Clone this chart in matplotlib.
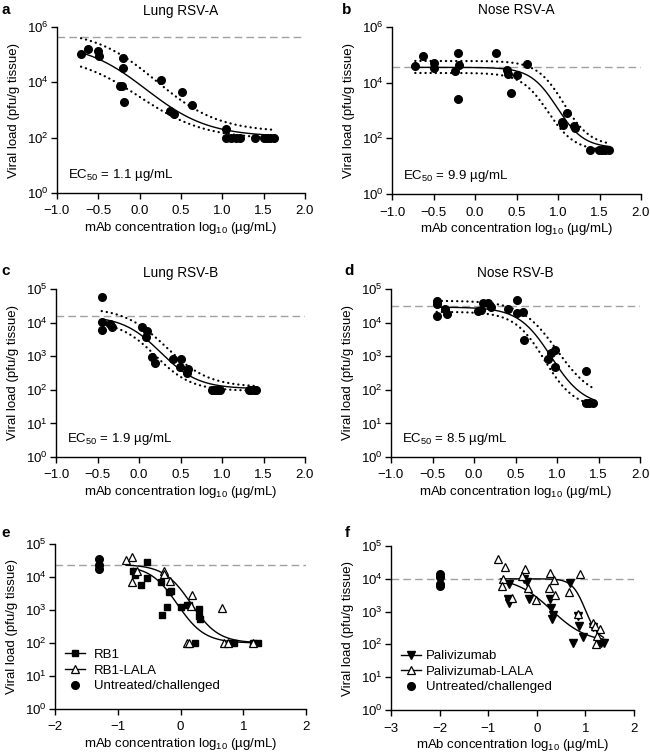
import numpy as np
import matplotlib
matplotlib.use('Agg')
import matplotlib.pyplot as plt
from matplotlib.lines import Line2D
from matplotlib.ticker import FuncFormatter, NullLocator

plt.rcParams['font.family'] = ['Liberation Sans', 'DejaVu Sans']
plt.rcParams['mathtext.fontset'] = 'custom'
plt.rcParams['mathtext.rm'] = 'Liberation Sans'
plt.rcParams['mathtext.it'] = 'Liberation Sans:italic'
plt.rcParams['font.size'] = 9.5

# all viral loads are stored as log10(pfu/g tissue), concentrations as log10(ug/mL)

# a: Lung RSV-A
lung_a_x = [-0.71, -0.62, -0.50, -0.49, -0.20, -0.20, -0.24, -0.21, -0.19, 0.26, 0.51, 0.63,
            0.37, 0.42, 1.05, 1.05, 1.11, 1.17, 1.21, 1.39, 1.50, 1.54, 1.58, 1.62]
lung_a_y = [5.04, 5.22, 5.12, 4.94, 4.89, 4.52, 3.86, 3.86, 3.28, 4.08, 3.66, 3.18,
            2.96, 2.84, 2.30, 2.00, 2.00, 2.00, 2.00, 2.00, 2.00, 2.00, 2.00, 2.00]
lung_a_fit = (5.45, 2.03, 0.08, 1.15)      # top, bottom, logEC50, hill
lung_a_hi = (5.90, 2.20, 0.20, 1.15)
lung_a_lo = (5.00, 1.95, 0.00, 1.10)
lung_a_ref = 5.64

# b: Nose RSV-A
nose_a_x = [-0.72, -0.63, -0.50, -0.50, -0.24, -0.20, -0.19, -0.20, 0.25, 0.38, 0.40, 0.43,
            0.51, 0.63, 1.05, 1.06, 1.11, 1.19, 1.21, 1.39, 1.49, 1.53, 1.57, 1.62]
nose_a_y = [4.59, 4.96, 4.71, 4.52, 4.42, 5.07, 4.64, 3.43, 5.07, 4.44, 4.30, 3.62,
            4.28, 4.68, 2.58, 2.47, 2.91, 2.43, 2.37, 1.59, 1.59, 1.59, 1.59, 1.59]
nose_a_fit = (4.55, 1.65, 0.99, 2.7)
nose_a_hi = (4.78, 1.72, 1.07, 2.7)
nose_a_lo = (4.35, 1.55, 0.88, 2.7)
nose_a_ref = 4.56

# c: Lung RSV-B
lung_b_x = [-0.45, -0.45, -0.44, -0.35, -0.33, 0.04, 0.10, 0.08, 0.16, 0.19, 0.41, 0.51,
            0.49, 0.59, 0.58, 0.88, 0.90, 0.93, 0.96, 0.98, 1.32, 1.35, 1.38, 1.41]
lung_b_y = [4.75, 3.78, 4.01, 3.96, 3.88, 3.86, 3.76, 3.56, 2.99, 2.79, 2.91, 2.91,
            2.69, 2.62, 2.50, 2.00, 2.00, 2.00, 2.00, 2.00, 2.00, 2.00, 2.00, 2.00]
lung_b_fit = (4.20, 2.03, 0.26, 1.9)
lung_b_hi = (4.45, 2.08, 0.33, 1.7)
lung_b_lo = (4.05, 1.97, 0.20, 2.0)
lung_b_ref = 4.20

# d: Nose RSV-B
nose_b_x = [-0.45, -0.45, -0.45, -0.35, -0.33, 0.05, 0.08, 0.11, 0.17, 0.20, 0.41, 0.52,
            0.52, 0.59, 0.60, 0.89, 0.93, 0.97, 0.97, 1.35, 1.35, 1.39, 1.43]
nose_b_y = [4.65, 4.56, 4.20, 4.39, 4.27, 4.36, 4.38, 4.58, 4.58, 4.45, 4.40, 4.67,
            4.30, 4.31, 3.48, 2.91, 3.09, 3.19, 2.69, 2.55, 1.60, 1.60, 1.60]
nose_b_fit = (4.46, 1.50, 0.93, 2.2)
nose_b_hi = (4.65, 1.70, 1.00, 2.0)
nose_b_lo = (4.32, 1.45, 0.85, 2.4)
nose_b_ref = 4.48

# e: RB1 vs RB1-LALA
rb1_x = [-0.75, -0.73, -0.54, -0.63, -0.54, -0.31, -0.19, -0.15, -0.30, -0.22, 0.00,
         0.10, 0.14, 0.30, 0.29, 0.31, 0.23, 0.79, 0.86, 1.16, 1.23]
rb1_y = [4.18, 4.05, 4.46, 3.76, 3.97, 3.84, 3.55, 3.58, 2.84, 3.08, 3.08,
         3.16, 3.14, 3.02, 2.82, 2.74, 2.00, 2.00, 2.00, 2.00, 2.00]
rb1_lala_x = [-0.87, -0.78, -0.70, -0.78, -0.27, -0.26, -0.16, 0.18, 0.17, 0.10, 0.13,
              0.66, 0.70, 0.76, 1.15]
rb1_lala_y = [4.51, 4.61, 4.18, 3.85, 4.18, 4.10, 3.88, 3.45, 3.13, 2.01, 2.01,
              3.05, 2.00, 2.00, 2.00]
rb1_untreated_x = [-1.3, -1.3, -1.3]
rb1_untreated_y = [4.56, 4.36, 4.25]
rb1_fit = (4.35, 2.00, -0.05, 2.0)
rb1_lala_fit = (4.38, 2.00, 0.17, 2.0)
rb1_ref = 4.35

# f: Palivizumab vs Palivizumab-LALA
pali_x = [-0.57, -0.60, -0.58, -0.26, -0.21, -0.17, 0.28, 0.30, 0.33, 0.32, 0.68,
          0.84, 0.86, 0.74, 0.96, 1.16, 1.27, 1.33, 1.38]
pali_y = [3.84, 3.37, 3.27, 3.99, 3.89, 3.37, 3.38, 3.12, 2.90, 2.78, 3.88,
          2.88, 2.56, 2.04, 2.22, 2.52, 2.04, 2.04, 2.04]
pali_lala_x = [-0.80, -0.65, -0.70, -0.72, -0.52, -0.24, -0.31, -0.18, -0.02, 0.27, 0.35,
               0.25, 0.38, 0.66, 0.88, 0.84, 1.16, 1.20, 1.30, 1.23, 1.22]
pali_lala_y = [4.59, 4.36, 4.00, 3.77, 3.40, 4.30, 4.09, 3.72, 3.34, 4.19, 3.97,
               3.72, 3.52, 3.59, 4.14, 2.92, 2.64, 2.55, 2.46, 2.27, 2.00]
pali_untreated_x = [-2.0, -2.0, -2.0, -2.0]
pali_untreated_y = [4.15, 4.05, 3.85, 3.77]
pali_fit = (4.05, 2.05, 0.30, 1.18)
pali_lala_fit = (4.00, 2.10, 1.00, 3.2)
pali_ref = 4.00


def four_pl(x, top, bottom, logec50, hill):
    return bottom + (top - bottom) / (1 + 10 ** ((x - logec50) * hill))


def draw_fit(ax, params, x0, x1, **kw):
    xs = np.linspace(x0, x1, 200)
    ax.plot(xs, 10 ** four_pl(xs, *params), **kw)


W, H = 650, 756
fig = plt.figure(figsize=(W / 100, H / 100), dpi=100)


def make_axes(l, t, r, b):
    return fig.add_axes([l / W, 1 - b / H, (r - l) / W, (b - t) / H])


minus = FuncFormatter(lambda v, p: ('%.1f' % v).replace('-', '\u2212'))
minus_int = FuncFormatter(lambda v, p: ('%d' % round(v)).replace('-', '\u2212'))


def style(ax, xlim, xticks, fmt, ymax, yexps, ref):
    ax.set_yscale('log')
    ax.set_ylim(1, 10.0 ** ymax)
    ax.set_yticks([10.0 ** k for k in yexps])
    ax.yaxis.set_minor_locator(NullLocator())
    ax.set_xlim(*xlim)
    ax.set_xticks(xticks)
    ax.xaxis.set_major_formatter(fmt)
    for s in ['top', 'right']:
        ax.spines[s].set_visible(False)
    for s in ['left', 'bottom']:
        ax.spines[s].set_linewidth(1.0)
    ax.tick_params(direction='out', length=4, width=1.0, labelsize=9.5)
    ax.tick_params(axis='x', pad=5)
    ax.tick_params(axis='y', pad=2)
    ax.axhline(10 ** ref, color='#a0a0a0', lw=1.0, dashes=(5.5, 3), zorder=1)
    ax.set_xlabel('mAb concentration log$_{10}$ (µg/mL)', fontsize=9.5, labelpad=2)
    ax.set_ylabel('Viral load (pfu/g tissue)', fontsize=9.5, labelpad=5)


dot = dict(color='k', lw=1.6, linestyle=(0, (0.1, 2.2)), dash_capstyle='round')


def dose_panel(ax, x, y, fit, hi, lo, ref, title, ec50, ymax, yexps):
    x0, x1 = min(x), max(x)
    draw_fit(ax, fit, x0, x1, color='k', lw=1.0)
    draw_fit(ax, hi, x0, x1, **dot)
    draw_fit(ax, lo, x0, x1, **dot)
    ax.plot(x, 10 ** np.array(y), 'o', color='k', ms=5.5, zorder=3)
    style(ax, (-1.0, 2.0), np.arange(-1.0, 2.01, 0.5), minus, ymax, yexps, ref)
    ax.set_title(title, fontsize=9.8, pad=9)
    ax.text(0.045, 0.11, 'EC$_{50}$ = ' + ec50 + ' µg/mL', transform=ax.transAxes,
            fontsize=9.5, va='center', ha='left')


ax_a = make_axes(57, 27, 305, 193)
dose_panel(ax_a, lung_a_x, lung_a_y, lung_a_fit, lung_a_hi, lung_a_lo, lung_a_ref,
           'Lung RSV-A', '1.1', 6, [0, 2, 4, 6])
ax_b = make_axes(392, 27, 641, 194)
dose_panel(ax_b, nose_a_x, nose_a_y, nose_a_fit, nose_a_hi, nose_a_lo, nose_a_ref,
           'Nose RSV-A', '9.9', 6, [0, 2, 4, 6])
ax_c = make_axes(56, 289, 305, 457)
dose_panel(ax_c, lung_b_x, lung_b_y, lung_b_fit, lung_b_hi, lung_b_lo, lung_b_ref,
           'Lung RSV-B', '1.9', 5, [0, 1, 2, 3, 4, 5])
ax_d = make_axes(391, 289, 640, 457)
dose_panel(ax_d, nose_b_x, nose_b_y, nose_b_fit, nose_b_hi, nose_b_lo, nose_b_ref,
           'Nose RSV-B', '8.5', 5, [0, 1, 2, 3, 4, 5])

# e
ax_e = make_axes(55, 544, 306, 709)
draw_fit(ax_e, rb1_fit, -0.75, 1.25, color='k', lw=1.0)
draw_fit(ax_e, rb1_lala_fit, -0.87, 1.25, color='k', lw=1.0)
ax_e.plot(rb1_x, 10 ** np.array(rb1_y), 's', color='k', ms=5, zorder=3)
ax_e.plot(rb1_lala_x, 10 ** np.array(rb1_lala_y), '^', mfc='white', mec='k', mew=0.9, ms=6, zorder=4)
ax_e.plot(rb1_untreated_x, 10 ** np.array(rb1_untreated_y), 'o', color='k', ms=5.5, zorder=3)
style(ax_e, (-2, 2), [-2, -1, 0, 1, 2], minus_int, 5, [0, 1, 2, 3, 4, 5], rb1_ref)
h_e = [Line2D([], [], color='k', lw=1.0, marker='s', ms=5),
       Line2D([], [], color='k', lw=1.0, marker='^', mfc='white', mec='k', mew=0.9, ms=6),
       Line2D([], [], color='k', lw=0, marker='o', ms=5.5)]
ax_e.legend(h_e, ['RB1', 'RB1-LALA', 'Untreated/challenged'], loc='lower left',
            bbox_to_anchor=(0.02, 0.07), frameon=False, fontsize=9.5, handlelength=1.5,
            handletextpad=0.7, labelspacing=0.25, borderaxespad=0)

# f
ax_f = make_axes(391, 546, 634, 710)
draw_fit(ax_f, pali_fit, -0.58, 1.38, color='k', lw=1.0)
draw_fit(ax_f, pali_lala_fit, -0.75, 1.37, color='k', lw=1.0)
ax_f.plot(pali_x, 10 ** np.array(pali_y), 'v', color='k', ms=6, zorder=3)
ax_f.plot(pali_lala_x, 10 ** np.array(pali_lala_y), '^', mfc='white', mec='k', mew=0.9, ms=6, zorder=4)
ax_f.plot(pali_untreated_x, 10 ** np.array(pali_untreated_y), 'o', color='k', ms=5.5, zorder=3)
style(ax_f, (-3, 2), [-3, -2, -1, 0, 1, 2], minus_int, 5, [0, 1, 2, 3, 4, 5], pali_ref)
h_f = [Line2D([], [], color='k', lw=1.0, marker='v', ms=6),
       Line2D([], [], color='k', lw=1.0, marker='^', mfc='white', mec='k', mew=0.9, ms=6),
       Line2D([], [], color='k', lw=0, marker='o', ms=5.5)]
ax_f.legend(h_f, ['Palivizumab', 'Palivizumab-LALA', 'Untreated/challenged'], loc='lower left',
            bbox_to_anchor=(0.02, 0.07), frameon=False, fontsize=9.5, handlelength=1.5,
            handletextpad=0.4, labelspacing=0.25, borderaxespad=0)

# panel letters
for lab, px, py in [('a', 1, 10), ('b', 342, 10), ('c', 1, 271), ('d', 344, 271),
                    ('e', 1, 533), ('f', 345, 533)]:
    fig.text(px / W, 1 - py / H, lab, fontsize=11, fontweight='bold', va='center', ha='left')

fig.savefig('out.png', dpi=100)
